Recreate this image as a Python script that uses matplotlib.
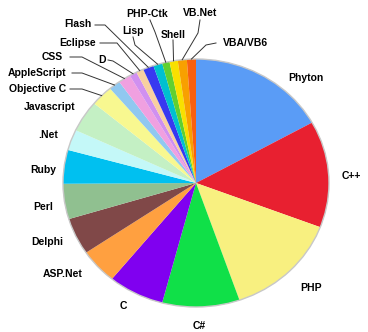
# Programming language share pie chart
import numpy as np
import matplotlib.pyplot as plt

plt.rcParams["font.family"] = "Liberation Sans"

languages = ["Phyton", "C++", "PHP", "C#", "C", "ASP.Net", "Delphi", "Perl", "Ruby",
             ".Net", "Javascript", "Objective C", "AppleScript", "CSS", "D", "Eclipse",
             "Flash", "Lisp", "PHP-Ctk", "Shell", "VB.Net", "VBA/VB6"]
shares = [16.9, 13.9, 13.9, 9.4, 6.8, 4.6, 4.8, 4.6, 4.4,
          2.7, 4.1, 2.7, 1.4, 1.5, 0.9, 0.9,
          1.3, 1.1, 0.9, 1.0, 1.1, 1.1]
colors = ["#5a9cf6", "#e82030", "#f8f080", "#10e048", "#8000f0", "#ffa040", "#804848",
          "#90c090", "#00c0f0", "#c4f8f8", "#c4f0c4", "#f8f890", "#90c8f0", "#f0a0e0",
          "#d090f0", "#f8d0a0", "#3838f0", "#00c0d0", "#60d030", "#f8e000", "#f8a000",
          "#f86010"]

# label layout in pixel coords (x, y from top), optional leader elbow points
label_pos = {
    "Phyton": (306, 78), "C++": (351, 176), "PHP": (311, 288), "C#": (199, 326),
    "C": (123, 306), "ASP.Net": (63, 274), "Delphi": (47, 242), "Perl": (43, 207),
    "Ruby": (43, 170), ".Net": (48, 135), "Javascript": (50, 107),
    "Objective C": (38, 89), "AppleScript": (37, 73), "CSS": (52, 57), "D": (102, 60),
    "Eclipse": (78, 43), "Flash": (78, 24), "Lisp": (133, 31), "PHP-Ctk": (147, 14),
    "Shell": (173, 35), "VB.Net": (200, 13), "VBA/VB6": (245, 43),
}
leaders = {
    "Objective C": [(70, 89), (82, 89)],
    "AppleScript": [(72, 73), (82, 73)],
    "CSS": [(70, 57), (82, 57)],
    "D": [(108, 60), (113, 61)],
    "Eclipse": [(100, 43), (117, 43)],
    "Flash": [(95, 25), (105, 25)],
    "Lisp": [(133, 37), (135, 45)],
    "PHP-Ctk": [(150, 20), (155, 32)],
    "Shell": [(173, 40)],
    "VB.Net": [(200, 20), (198, 33)],
    "VBA/VB6": [(216, 43), (206, 45)],
}

W, H = 368, 332
k = 133 / 124  # pie is a bit wider than tall
cx, cy, r = 196, 183, 133


def px(x, y):
    return x, (H - y) * k


fig = plt.figure(figsize=(W / 100, H / 100), dpi=100)
ax = fig.add_axes([0, 0, 1, 1])
center = px(cx, cy)
wedges, _ = ax.pie(shares, colors=colors, startangle=90, counterclock=False,
                   center=center, radius=r, frame=True,
                   wedgeprops=dict(linewidth=0))
ax.add_patch(plt.Circle(center, r, fill=False, ec="#c8c8c8", lw=1))
ax.set_aspect("auto")
ax.set_xlim(0, W)
ax.set_ylim(0, H * k)
ax.axis("off")

for name, w in zip(languages, wedges):
    tx, ty = label_pos[name]
    ax.text(*px(tx, ty), name, ha="center", va="center", fontsize=7.5, fontweight="bold")
    if name in leaders:
        mid = np.deg2rad((w.theta1 + w.theta2) / 2)
        end = (center[0] + r * np.cos(mid), center[1] + r * np.sin(mid))
        pts = [px(x, y) for x, y in leaders[name]] + [end]
        xs, ys = zip(*pts)
        ax.plot(xs, ys, color="#333333", lw=0.7)

plt.savefig("out.png", dpi=100)
